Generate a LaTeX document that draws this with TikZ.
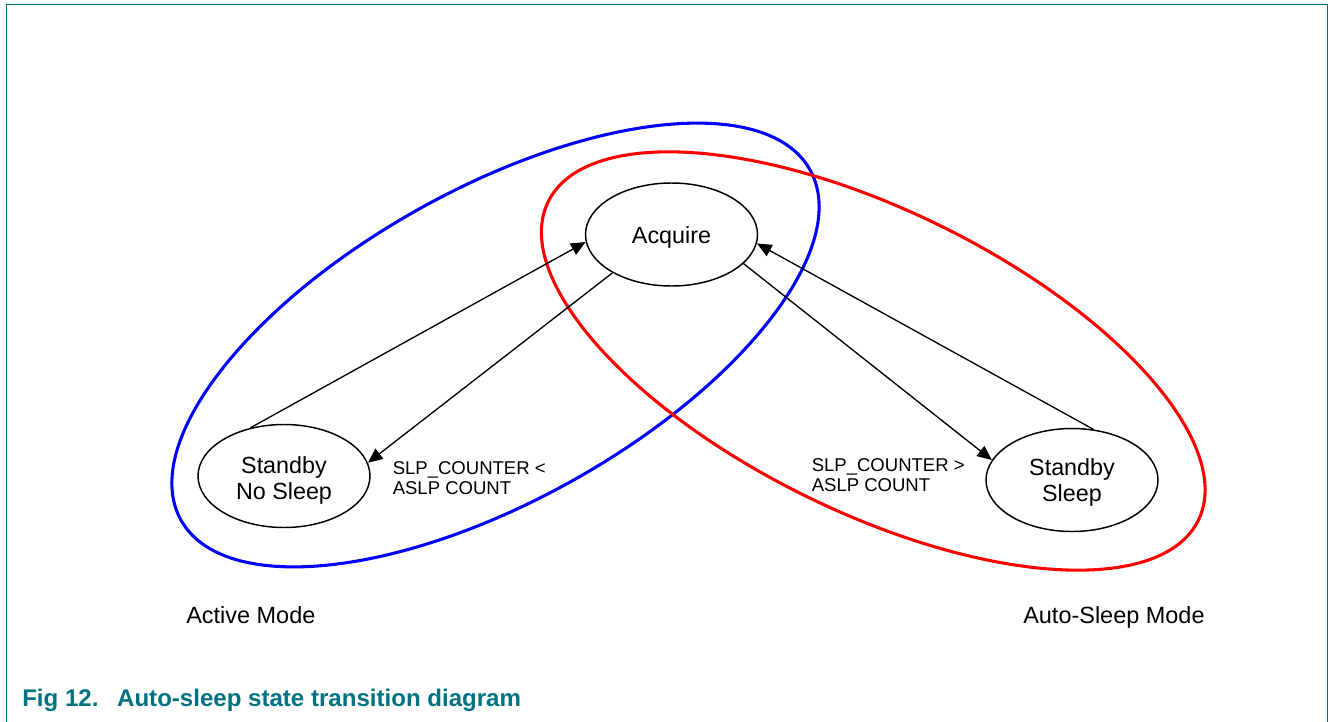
\documentclass[tikz,border=0pt]{standalone}
\usepackage{fontspec}
\setmainfont{Liberation Sans}
\usetikzlibrary{arrows.meta,shapes.geometric}
\definecolor{frameteal}{RGB}{0,114,130}
\definecolor{actblue}{RGB}{0,0,255}
\definecolor{slpred}{RGB}{255,0,0}
\newcommand\lowr[2]{\raisebox{-#1}[\height][\depth]{#2}}
\begin{document}
\begin{tikzpicture}[x=0.75pt,y=-0.75pt,
  state/.style={ellipse, draw, line width=1.1pt, minimum width=129pt, minimum height=77.25pt,
                inner sep=0pt, align=center, font=\fontsize{17.5}{19.5}\selectfont},
  trans/.style={line width=1pt, -{Triangle[length=11pt,width=9.5pt]}},
  cond/.style={align=left, anchor=base west, inner sep=0pt, font=\fontsize{13.9}{15}\selectfont},
  mode/.style={anchor=base west, inner sep=0pt, font=\fontsize{17.6}{20}\selectfont},
  group/.style={line width=2.3pt},
  frame/.style={draw=frameteal, line width=1pt}]
\useasboundingbox (0,0) rectangle (1330,721);
% frame
\draw[frame] (6.5,722) -- (6.5,4.5) -- (1327.5,4.5) -- (1327.5,722);
% mode groupings
\draw[group, actblue, rotate around={29.1:(495.5,345)}] (495.5,345) ellipse [x radius=360, y radius=156];
\draw[group, slpred, rotate around={-26.1:(873.25,361)}] (873.25,361) ellipse [x radius=362, y radius=151];
% states
\node[state] (acq) at (671.5,234.5) {\lowr{2.25pt}{Acquire}};
\node[state] (nsl) at (284,476) {\lowr{3.4pt}{Standby}\\\lowr{3.4pt}{No Sleep}};
\node[state] (sl) at (1072,480) {\lowr{1.5pt}{Standby}\\\lowr{1.5pt}{Sleep}};
% transitions
\draw[trans] (nsl.125) -- (acq.185);
\draw[trans] (acq.213) -- (nsl.9);
\draw[trans] (acq.338) -- (sl.166);
\draw[trans] (sl.67) -- (acq.354);
% conditions
\node[cond] (lt) at (392.5,494.3) {SLP\_COUNTER <\\ASLP COUNT};
\node[cond] (rt) at (811.5,491.7) {SLP\_COUNTER >\\ASLP COUNT};
% mode labels
\node[mode] (am) at (186,623) {Active Mode};
\node[mode] (asm) at (1023,623) {Auto-Sleep Mode};
% caption
\node[anchor=base west, inner sep=0pt, text=frameteal, font=\bfseries\fontsize{18.05}{20}\selectfont] (cap) at (22,706) {Fig 12.\hspace{14pt}Auto-sleep state transition diagram};
\end{tikzpicture}
\end{document}
